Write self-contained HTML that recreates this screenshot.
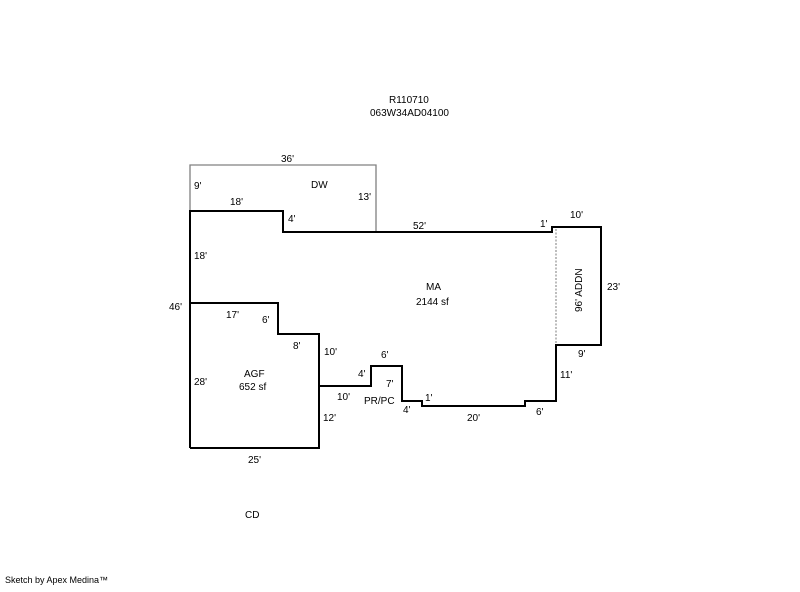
<!DOCTYPE html>
<html><head><style>
body{margin:0;background:#fff;}
svg text{font-family:"Liberation Sans",sans-serif;font-size:10px;fill:#000;}
</style></head><body>
<svg width="800" height="587" viewBox="0 0 800 587" xmlns="http://www.w3.org/2000/svg">
<rect width="800" height="587" fill="#fff"/>
<polyline points="190,211 190,165 376,165 376,232" fill="none" stroke="#808080" stroke-width="1.3"/>
<line x1="556" y1="229" x2="556" y2="345" stroke="#999" stroke-width="1.3" stroke-dasharray="2,1.5"/>
<polyline points="190,448 190,211 283,211 283,232 552,232 552,227 601,227 601,345 556,345 556,401 525,401 525,406 422,406 422,401 402,401 402,366 371,366 371,386 319,386" fill="none" stroke="#000" stroke-width="2"/>
<polyline points="190,303 278,303 278,334 319,334 319,448 190,448" fill="none" stroke="#000" stroke-width="2"/>
<text x="389" y="103">R110710</text>
<text x="370" y="116">063W34AD04100</text>
<text x="281" y="162">36'</text>
<text x="194" y="189">9'</text>
<text x="311" y="188">DW</text>
<text x="358" y="200">13'</text>
<text x="230" y="205">18'</text>
<text x="288" y="222">4'</text>
<text x="413" y="229">52'</text>
<text x="540" y="227">1'</text>
<text x="570" y="218">10'</text>
<text x="194" y="259">18'</text>
<text x="169" y="310">46'</text>
<text x="426" y="290">MA</text>
<text x="416" y="305">2144 sf</text>
<text x="607" y="290">23'</text>
<text transform="translate(582,312) rotate(-90)">96' ADDN</text>
<text x="226" y="318">17'</text>
<text x="262" y="323">6'</text>
<text x="293" y="349">8'</text>
<text x="324" y="355">10'</text>
<text x="381" y="358">6'</text>
<text x="578" y="357">9'</text>
<text x="244" y="377">AGF</text>
<text x="239" y="390">652 sf</text>
<text x="194" y="385">28'</text>
<text x="358" y="377">4'</text>
<text x="386" y="387">7'</text>
<text x="560" y="378">11'</text>
<text x="337" y="400">10'</text>
<text x="364" y="404">PR/PC</text>
<text x="425" y="401">1'</text>
<text x="403" y="413">4'</text>
<text x="467" y="421">20'</text>
<text x="536" y="415">6'</text>
<text x="323" y="421">12'</text>
<text x="248" y="463">25'</text>
<text x="245" y="518">CD</text>
<text x="5" y="583" style="font-size:9px">Sketch by Apex Medina™</text>
</svg>
</body></html>
